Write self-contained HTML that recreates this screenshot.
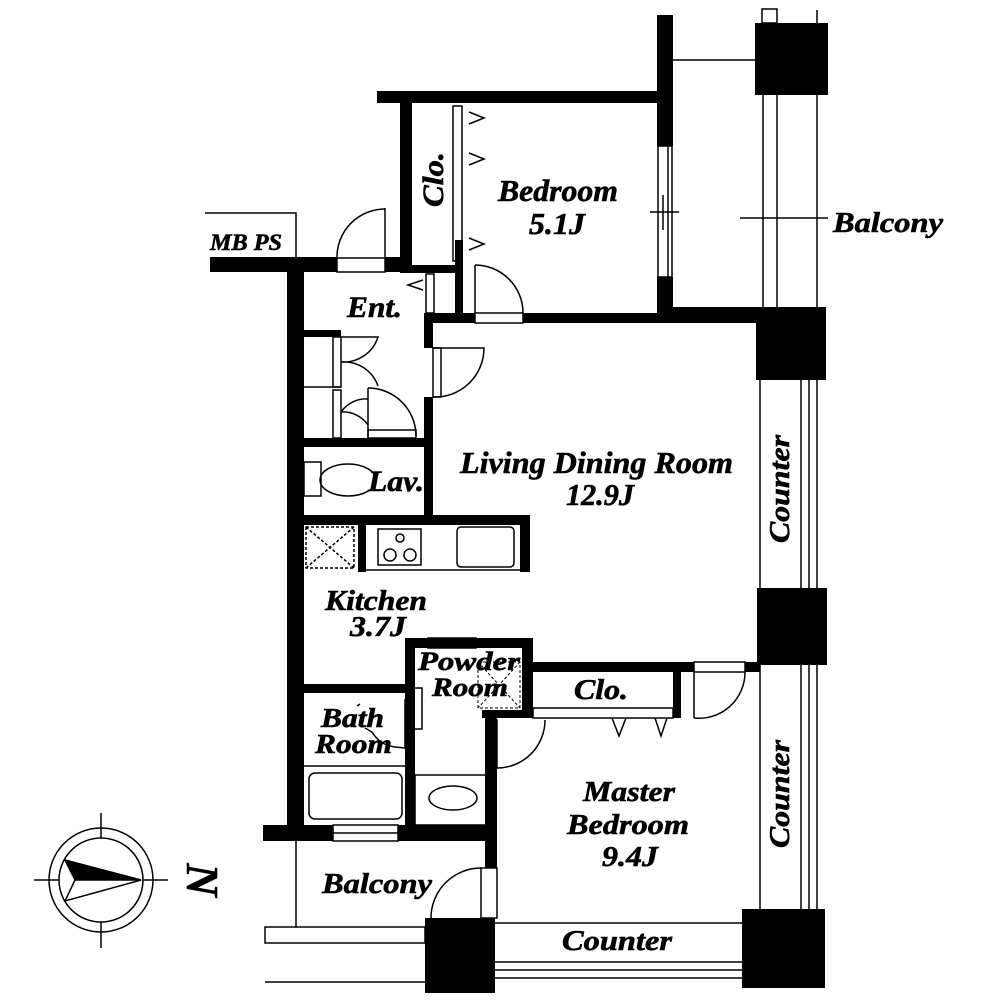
<!DOCTYPE html>
<html><head><meta charset="utf-8"><style>
html,body{margin:0;padding:0;background:#fff;}
svg{display:block;}
text{font-family:"Liberation Serif",serif;font-weight:bold;font-style:italic;fill:#000;}
</style></head><body>
<svg width="1000" height="1000" viewBox="0 0 1000 1000" xmlns="http://www.w3.org/2000/svg">
<g fill="#000">
<rect x="377" y="91" width="296" height="12"/>
<rect x="657" y="15" width="16" height="131"/>
<rect x="657" y="277" width="16" height="46"/>
<rect x="400" y="91" width="12" height="182"/>
<rect x="400" y="265" width="63" height="8"/>
<rect x="455" y="240" width="8" height="83"/>
<rect x="210" y="257" width="127" height="15"/>
<rect x="385" y="257" width="20" height="15"/>
<rect x="287" y="257" width="17" height="584"/>
<rect x="425" y="313" width="50" height="10"/>
<rect x="523" y="313" width="234" height="10"/>
<rect x="673" y="307" width="84" height="16"/>
<rect x="424" y="313" width="9" height="35"/>
<rect x="424" y="397" width="9" height="128"/>
<rect x="304" y="330" width="37" height="7"/>
<rect x="304" y="438" width="120" height="9"/>
<rect x="304" y="515" width="226" height="10"/>
<rect x="358" y="525" width="8" height="47"/>
<rect x="520" y="525" width="10" height="47"/>
<rect x="304" y="684" width="101" height="9"/>
<rect x="405" y="638" width="10" height="187"/>
<rect x="405" y="638" width="128" height="10"/>
<rect x="522" y="638" width="11" height="80"/>
<rect x="482" y="710" width="51" height="8"/>
<rect x="533" y="662" width="161" height="10"/>
<rect x="673" y="662" width="8" height="56"/>
<rect x="745" y="662" width="15" height="10"/>
<rect x="485" y="718" width="12" height="150"/>
<rect x="263" y="825" width="70" height="16"/>
<rect x="398" y="825" width="99" height="16"/>
<rect x="755" y="23" width="73" height="72"/>
<rect x="756" y="307" width="70" height="73"/>
<rect x="757" y="588" width="70" height="77"/>
<rect x="742" y="909" width="83" height="79"/>
<rect x="425" y="918" width="70" height="75"/>
</g>
<g fill="none" stroke="#000" stroke-width="1.5">
<rect x="762" y="9" width="15" height="14" fill="#fff"/>
<line x1="817" y1="10" x2="817" y2="23"/>
<line x1="673" y1="60" x2="755" y2="60"/>
<line x1="763" y1="95" x2="763" y2="307"/>
<line x1="777" y1="95" x2="777" y2="307"/>
<line x1="817" y1="95" x2="817" y2="307"/>
<line x1="740" y1="218" x2="828" y2="218"/>
<rect x="658" y="146" width="14" height="131"/>
<line x1="668" y1="146" x2="668" y2="277"/>
<line x1="650" y1="212" x2="679" y2="212"/>
<line x1="663" y1="195" x2="663" y2="230"/>
<rect x="453" y="106" width="9" height="155"/>
<polyline points="469,112 484,118 469,124"/>
<polyline points="469,153 484,159 469,165"/>
<polyline points="469,238 484,244 469,250"/>
<polyline points="205,213 296,213 296,257"/>
<rect x="337" y="258" width="48" height="14"/>
<line x1="385" y1="208" x2="385" y2="257"/>
<path d="M337,257 A48,48 0 0 1 385,209"/>
<rect x="426" y="274" width="8" height="39"/>
<polyline points="423,280 408,285 423,290"/>
<rect x="475" y="313" width="48" height="10"/>
<line x1="475" y1="265" x2="475" y2="313"/>
<path d="M475,265 A48,48 0 0 1 523,313"/>
<rect x="433" y="348" width="8" height="49"/>
<path d="M433,348 L484,348 A49,49 0 0 1 433,397"/>
<line x1="304" y1="387" x2="341" y2="387"/>
<rect x="333" y="337" width="8" height="50"/>
<rect x="333" y="390" width="8" height="48"/>
<path d="M341,337 L378,337 A36,36 0 0 1 341,362 A36,36 0 0 1 378,386"/>
<path d="M341,412 A30,30 0 0 1 368,399 M341,412 A30,30 0 0 1 368,425"/>
<line x1="368" y1="388" x2="368" y2="438"/>
<path d="M368,388 A48,48 0 0 1 416,436"/>
<rect x="368" y="430" width="48" height="8"/>
<rect x="304" y="462" width="17" height="34"/>
<ellipse cx="348" cy="480" rx="28" ry="16"/>
<line x1="366" y1="570" x2="520" y2="570"/>
<rect x="306" y="527" width="48" height="41" stroke-dasharray="3,2"/>
<path d="M306,527 L354,568 M354,527 L306,568" stroke-dasharray="3,2"/>
<rect x="378" y="529" width="43" height="36"/>
<circle cx="400" cy="538" r="4"/>
<circle cx="390" cy="555" r="6"/>
<circle cx="410" cy="555" r="6"/>
<rect x="457" y="527" width="57" height="40" rx="4"/>
<rect x="428" y="638" width="48" height="10"/>
<rect x="414" y="688" width="8" height="41"/>
<path d="M478,662 L520,662 L520,708 L478,708 Z M478,662 L520,708 M520,662 L478,708" stroke-dasharray="3,2" stroke-width="1"/>
<rect x="533" y="708" width="140" height="10"/>
<polyline points="612,718 619,736 626,718"/>
<polyline points="655,718 661,736 667,718"/>
<rect x="694" y="662" width="51" height="10"/>
<line x1="694" y1="672" x2="694" y2="718"/>
<path d="M694,718 A46,46 0 0 0 745,672"/>
<rect x="489" y="720" width="8" height="48"/>
<path d="M497,768 A48,48 0 0 0 545,720"/>
<line x1="304" y1="766" x2="405" y2="766"/>
<rect x="309" y="773" width="93" height="46" rx="6"/>
<rect x="405" y="700" width="8" height="48"/>
<path d="M357,706 L360,704 M365,728 L372,732 Q380,745 395,747 L405,748"/>
<rect x="415" y="775" width="73" height="50"/>
<ellipse cx="453" cy="798" rx="24" ry="12"/>
<rect x="333" y="825" width="65" height="16"/>
<line x1="333" y1="833" x2="398" y2="833"/>
<line x1="296" y1="841" x2="296" y2="927"/>
<rect x="265" y="927" width="160" height="16"/>
<line x1="265" y1="982" x2="425" y2="982"/>
<rect x="481" y="868" width="16" height="50"/>
<path d="M431,918 A50,50 0 0 1 481,868"/>
<line x1="495" y1="923" x2="742" y2="923"/>
<line x1="495" y1="962" x2="742" y2="962"/>
<line x1="495" y1="970" x2="742" y2="970"/>
<line x1="495" y1="978" x2="742" y2="978"/>
<line x1="760" y1="380" x2="760" y2="588"/>
<line x1="801" y1="380" x2="801" y2="588"/>
<line x1="809" y1="380" x2="809" y2="588"/>
<line x1="817" y1="380" x2="817" y2="588"/>
<line x1="760" y1="665" x2="760" y2="909"/>
<line x1="801" y1="665" x2="801" y2="909"/>
<line x1="809" y1="665" x2="809" y2="909"/>
<line x1="817" y1="665" x2="817" y2="909"/>
<circle cx="101" cy="880" r="52"/>
<circle cx="101" cy="880" r="42"/>
<line x1="101" y1="813" x2="101" y2="838"/>
<line x1="101" y1="922" x2="101" y2="948"/>
<line x1="34" y1="880" x2="59" y2="880"/>
<line x1="143" y1="880" x2="168" y2="880"/>
<polygon points="65,860 141,880 75,880" fill="#000"/>
<polyline points="75,880 65,901 141,880"/>
</g>
<g stroke="#000" stroke-width="0.6">
<text x="0" y="0" transform="translate(443,207) rotate(-90)" font-size="30" textLength="55" lengthAdjust="spacingAndGlyphs">Clo.</text>
<text x="498" y="201" font-size="31" textLength="120" lengthAdjust="spacingAndGlyphs">Bedroom</text>
<text x="529" y="234" font-size="31" textLength="56" lengthAdjust="spacingAndGlyphs">5.1J</text>
<text x="210" y="250" font-size="23" textLength="72" lengthAdjust="spacingAndGlyphs">MB PS</text>
<text x="347" y="317" font-size="30" textLength="55" lengthAdjust="spacingAndGlyphs">Ent.</text>
<text x="368" y="491" font-size="30" textLength="56" lengthAdjust="spacingAndGlyphs">Lav.</text>
<text x="460" y="473" font-size="31" textLength="273" lengthAdjust="spacingAndGlyphs">Living Dining Room</text>
<text x="566" y="505" font-size="31" textLength="68" lengthAdjust="spacingAndGlyphs">12.9J</text>
<text x="325" y="610" font-size="29" textLength="102" lengthAdjust="spacingAndGlyphs">Kitchen</text>
<text x="350" y="636" font-size="29" textLength="56" lengthAdjust="spacingAndGlyphs">3.7J</text>
<text x="418" y="670" font-size="26" textLength="102" lengthAdjust="spacingAndGlyphs">Powder</text>
<text x="432" y="696" font-size="26" textLength="76" lengthAdjust="spacingAndGlyphs">Room</text>
<text x="574" y="699" font-size="28" textLength="54" lengthAdjust="spacingAndGlyphs">Clo.</text>
<text x="321" y="727" font-size="27" textLength="63" lengthAdjust="spacingAndGlyphs">Bath</text>
<text x="315" y="753" font-size="27" textLength="77" lengthAdjust="spacingAndGlyphs">Room</text>
<text x="583" y="801" font-size="29" textLength="92" lengthAdjust="spacingAndGlyphs">Master</text>
<text x="567" y="834" font-size="29" textLength="122" lengthAdjust="spacingAndGlyphs">Bedroom</text>
<text x="602" y="866" font-size="29" textLength="56" lengthAdjust="spacingAndGlyphs">9.4J</text>
<text x="322" y="893" font-size="29" textLength="110" lengthAdjust="spacingAndGlyphs">Balcony</text>
<text x="562" y="950" font-size="29" textLength="110" lengthAdjust="spacingAndGlyphs">Counter</text>
<text x="0" y="0" transform="translate(789,543) rotate(-90)" font-size="29" textLength="108" lengthAdjust="spacingAndGlyphs">Counter</text>
<text x="0" y="0" transform="translate(789,848) rotate(-90)" font-size="29" textLength="108" lengthAdjust="spacingAndGlyphs">Counter</text>
<text x="833" y="232" font-size="29" textLength="110" lengthAdjust="spacingAndGlyphs">Balcony</text>
<text x="0" y="0" transform="translate(187,880) rotate(90)" font-size="46" font-style="normal" text-anchor="middle">N</text>
</g>
</svg>
</body></html>
